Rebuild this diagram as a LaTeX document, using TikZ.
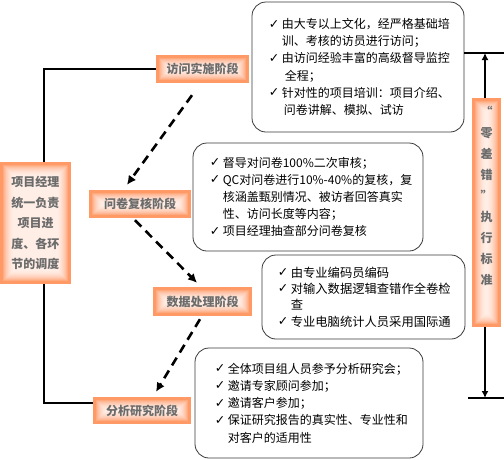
\documentclass[tikz,border=0pt]{standalone}
\usepackage{fontspec}
\newfontfamily\cjk{Noto Sans CJK SC}
\newfontfamily\symf{DejaVu Sans}
\usetikzlibrary{arrows.meta,calc}
\definecolor{boxor}{HTML}{FF9966}
\definecolor{labgray}{HTML}{6B6B6B}
\definecolor{framec}{HTML}{3A3A3A}
\newcommand\ck{\makebox[13pt][l]{\raisebox{0.5pt}{\symf\fontsize{12.5}{12}\selectfont ✓}}}
\newcommand\ind{\hspace*{13pt}}
\pgfdeclarelayer{bg}
\pgfsetlayers{bg,main}
\tikzset{
  glow/.style={fill=boxor, inner sep=0pt, text=labgray, align=center,
    font=\cjk\bfseries\fontsize{12}{20.5}\selectfont,
    path picture={
      \foreach \k in {3,...,13}{
        \fill[white,opacity=0.16]
          ([shift={(\k pt,-\k pt)}]path picture bounding box.north west)
          rectangle
          ([shift={(-\k pt,\k pt)}]path picture bounding box.south east);
      }}},
  tbox/.style={draw=framec, line width=0.8pt, rounded corners=14pt, fill=white, inner sep=0pt},
  btext/.style={anchor=west, inner sep=0pt, align=left},
  conn/.style={line width=2pt},
  darr/.style={line width=2.6pt, dash pattern=on 9pt off 6pt, -{Latex[length=9pt,width=9pt]}},
  rarr/.style={line width=1.8pt, -{Latex[length=7pt,width=7pt]}},
  hbar/.style={line width=2.4pt}
}
\begin{document}
\begin{tikzpicture}[x=1pt,y=-1pt]
\useasboundingbox (0,0) rectangle (504,459);

% stage boxes
\node[glow, minimum width=71pt, minimum height=122pt] (lead) at (35.5,223) {项目经理\\统一负责\\项目进\\度、各环\\节的调度};
\node[glow, minimum width=93pt, minimum height=28pt] (s1) at (202.5,69) {访问实施阶段};
\node[glow, minimum width=102pt, minimum height=28pt] (s2) at (140,204) {问卷复核阶段};
\node[glow, minimum width=99pt, minimum height=29pt] (s3) at (202.5,301.5) {数据处理阶段};
\node[glow, minimum width=98pt, minimum height=27pt] (s4) at (142,410.5) {分析研究阶段};

% right bar
\node[glow, minimum width=29pt, minimum height=229pt] (bar) at (486.5,212.5) {};
\node[inner sep=0pt, align=center, text=labgray, font=\cjk\bfseries\fontsize{12}{21}\selectfont] (bartxt) at (486.5,196) {“\\零\\差\\错\\”\\执\\行\\标\\准};

% text boxes
\node[tbox, minimum width=212pt, minimum height=130pt] (b1) at (358,67) {};
\node[btext, font=\cjk\fontsize{12}{17.2}\selectfont] (t1) at ([xshift=17pt]b1.west) {\ck 由大专以上文化，经严格基础培\\\ind 训、考核的访员进行访问；\\\ck 由访问经验丰富的高级督导监控\\\ind\hspace*{3pt}全程；\\\ck 针对性的项目培训：项目介绍、\\\ind\hspace*{2pt}问卷讲解、模拟、试访};

\node[tbox, minimum width=230pt, minimum height=108pt] (b2) at (308,197) {};
\node[btext, font=\cjk\fontsize{12}{17.2}\selectfont] (t2) at ([xshift=17pt]b2.west) {\ck 督导对问卷100\%二次审核；\\\ck QC对问卷进行10\%-40\%的复核，复\\\ind 核涵盖甄别情况、被访者回答真实\\\ind 性、访问长度等内容；\\\ck 项目经理抽查部分问卷复核};

\node[tbox, minimum width=203pt, minimum height=84pt] (b3) at (363.5,297) {};
\node[btext, font=\cjk\fontsize{12.3}{16.4}\selectfont] (t3) at ([xshift=16pt]b3.west) {\ck 由专业编码员编码\\\ck 对输入数据逻辑查错作全卷检\\\ind 查\\\ck 专业电脑统计人员采用国际通};

\node[tbox, minimum width=228pt, minimum height=110pt] (b4) at (309,403) {};
\node[btext, font=\cjk\fontsize{12}{17.25}\selectfont] (t4) at ([xshift=20pt]b4.west) {\ck 全体项目组人员参予分析研究会；\\\ck 邀请专家顾问参加；\\\ck 邀请客户参加；\\\ck 保证研究报告的真实性、专业性和\\\ind 对客户的适用性};

% left connector behind boxes
\begin{pgfonlayer}{bg}
\coordinate (lb) at (44,403);
\draw[conn] (s1.west) -| (lb) -- (lb -| s4.west);
\end{pgfonlayer}

% dashed flow arrows
\draw[darr] ([xshift=-10.5pt,yshift=-12pt]s1.south) -- ([xshift=-13pt,yshift=5pt]s2.north);
\draw[darr] ([xshift=-5pt,yshift=-2pt]s2.south) -- ([xshift=-5.5pt,yshift=4pt]s3.north);
\draw[darr] ([xshift=-2.5pt,yshift=-3pt]s3.south) -- ([xshift=14pt,yshift=5pt]s4.north);

% right range arrows
\coordinate (rt) at (485,53);
\coordinate (rtr) at (504,53);
\coordinate (rb) at (485,398);
\coordinate (rbl) at (468,398);
\coordinate (rbr) at (504,398);
\draw[hbar] (b1.east |- rt) -- (rtr);
\draw[hbar] (rbl) -- (rbr);
\draw[rarr] (bar.north -| rt) -- (rt);
\draw[rarr] (bar.south -| rb) -- (rb);
\end{tikzpicture}
\end{document}
